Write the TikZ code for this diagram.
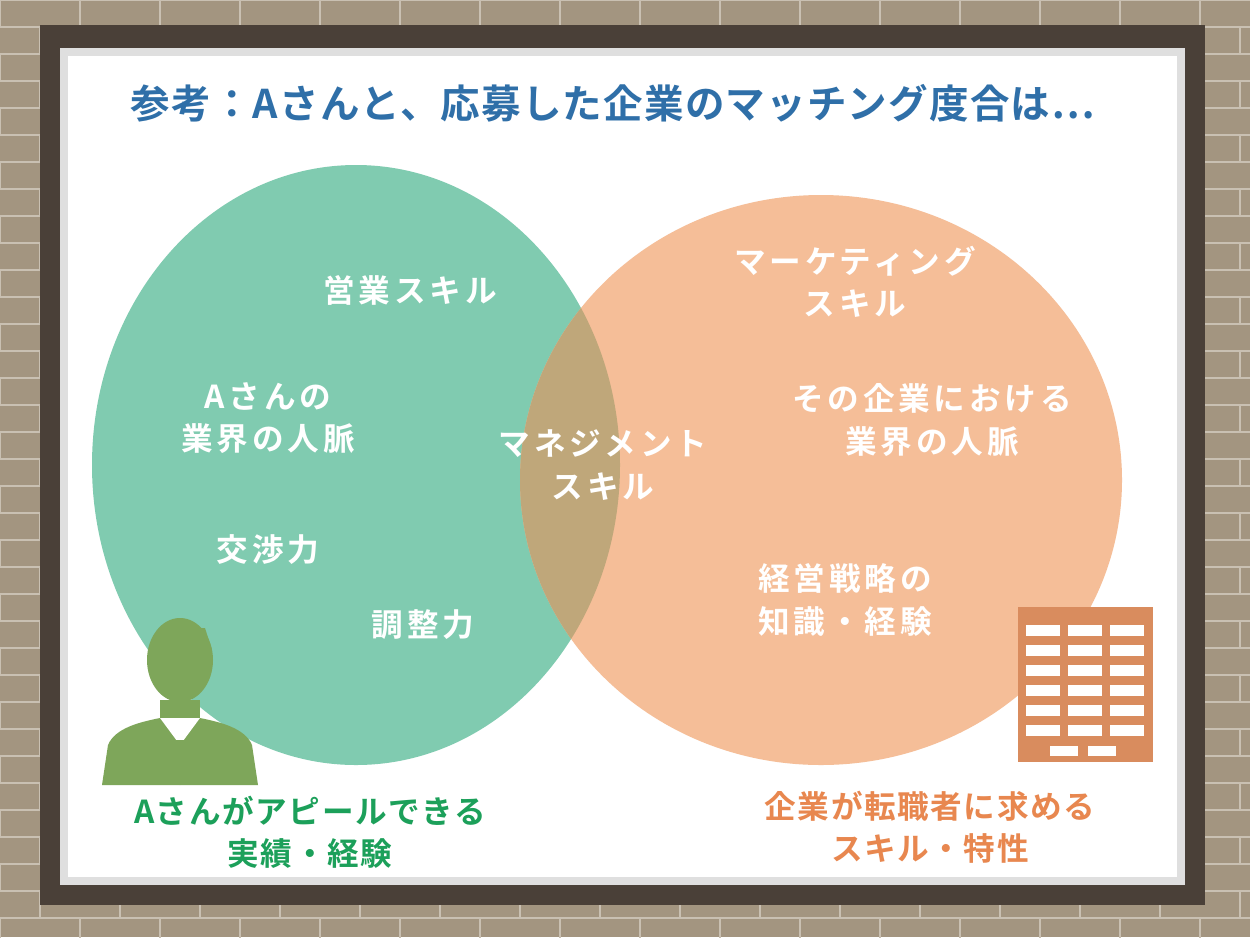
\documentclass[tikz,border=0pt]{standalone}
\usepackage{fontspec}
\setmainfont{Noto Sans CJK JP}[BoldFont={* Bold}]
\usetikzlibrary{positioning}
\definecolor{brick}{HTML}{A39580}
\definecolor{mortar}{HTML}{C9C0B2}
\definecolor{framec}{HTML}{4A4038}
\definecolor{titleblue}{HTML}{2F6FA8}
\definecolor{greenc}{HTML}{80CBB0}
\definecolor{orangec}{HTML}{F5BE98}
\definecolor{mixc}{HTML}{BFA77A}
\definecolor{labgreen}{HTML}{1CA05A}
\definecolor{laborange}{HTML}{E8874F}
\definecolor{mangreen}{HTML}{7EA65A}
\definecolor{bldg}{HTML}{D98C5E}
\tikzset{
  skill/.style={text=white, font=\bfseries\fontsize{18}{24}\selectfont\addfontfeatures{LetterSpace=12}, align=center},
  caption/.style={font=\bfseries\fontsize{18}{24}\selectfont\addfontfeatures{LetterSpace=5}, align=center},
  win/.style={fill=white, draw=none}
}
\begin{document}
\begin{tikzpicture}[x=0.02cm, y=-0.02cm]
            \useasboundingbox (0,0) rectangle (1250,937);
            % Wall and frame
            \begin{scope}
              \clip (0,0) rectangle (1250,937);
              \fill[brick] (0,0) rectangle (1250,937);
              \foreach \r in {0,...,34} {
                \draw[mortar, line width=1.2pt] (0,\r*27) -- (1250,\r*27);
                \pgfmathsetmacro{\off}{mod(\r,2)*40}
                \foreach \c in {0,...,15} {
                  \draw[mortar, line width=1.2pt] (\off+\c*80,\r*27) -- (\off+\c*80,\r*27+27);
                }
              }
            \end{scope}
            \fill[framec] (40,25) rectangle (1205,905);
            \fill[gray!25] (60,48) rectangle (1185,885);
            \fill[white] (68,56) rectangle (1177,877);

            % Title
            \node[text=titleblue, font=\bfseries\fontsize{22.5}{28}\selectfont\addfontfeatures{LetterSpace=3}] (title) at (613,103) {参考：Aさんと、応募した企業のマッチング度合は…};

            % Circles
            \fill[greenc] (356,465) ellipse (264 and 300);
            \fill[orangec] (821,480) ellipse (301 and 285);
            \begin{scope}
              \clip (356,465) ellipse (264 and 300);
              \fill[mixc] (821,480) ellipse (301 and 285);
            \end{scope}

            % Skills
            \node[skill] (sales) at (410,290) {営業スキル};
            \node[skill] (network) at (268,418) {Aさんの\\業界の人脈};
            \node[skill] (nego) at (268,550) {交渉力};
            \node[skill] (adjust) at (423,625) {調整力};
            \node[skill] (mgmt) at (603,465) {マネジメント\\スキル};
            \node[skill] (mkt) at (855,282) {マーケティング\\スキル};
            \node[skill] (corpnet) at (932,420) {その企業における\\業界の人脈};
            \node[skill] (strategy) at (845,600) {経営戦略の\\知識・経験};

            % Person icon
            \fill[mangreen] (180,660) ellipse (33 and 42);
            \fill[mangreen] (150,645) -- (165,630) -- (205,628) -- (212,650) -- (208,660) -- (150,660) -- cycle;
            \fill[mangreen] (160,700) rectangle (200,725);
            \fill[mangreen] (102,785) -- (108,745) .. controls (115,728) and (140,722) .. (160,718)
              -- (200,718) .. controls (220,722) and (245,728) .. (252,745) -- (258,785) -- cycle;
            \fill[white] (160,718) -- (180,745) -- (200,718) -- cycle;
            \fill[mangreen] (176,740) -- (184,740) -- (188,780) -- (180,785) -- (172,780) -- cycle;

            % Building icon
            \fill[bldg] (1018,607) rectangle (1153,762);
            \foreach \r in {0,...,5} {
              \foreach \c in {0,1,2} {
                \fill[win] (1026+\c*42,625+\r*20) rectangle (1060+\c*42,636+\r*20);
              }
            }
            \fill[win] (1050,746) rectangle (1078,756);
            \fill[win] (1088,746) rectangle (1116,756);

            % Captions
            \node[caption, text=labgreen] (capA) at (310,832) {Aさんがアピールできる\\実績・経験};
            \node[caption, text=laborange] (capB) at (930,827) {企業が転職者に求める\\スキル・特性};
\end{tikzpicture}
\end{document}
